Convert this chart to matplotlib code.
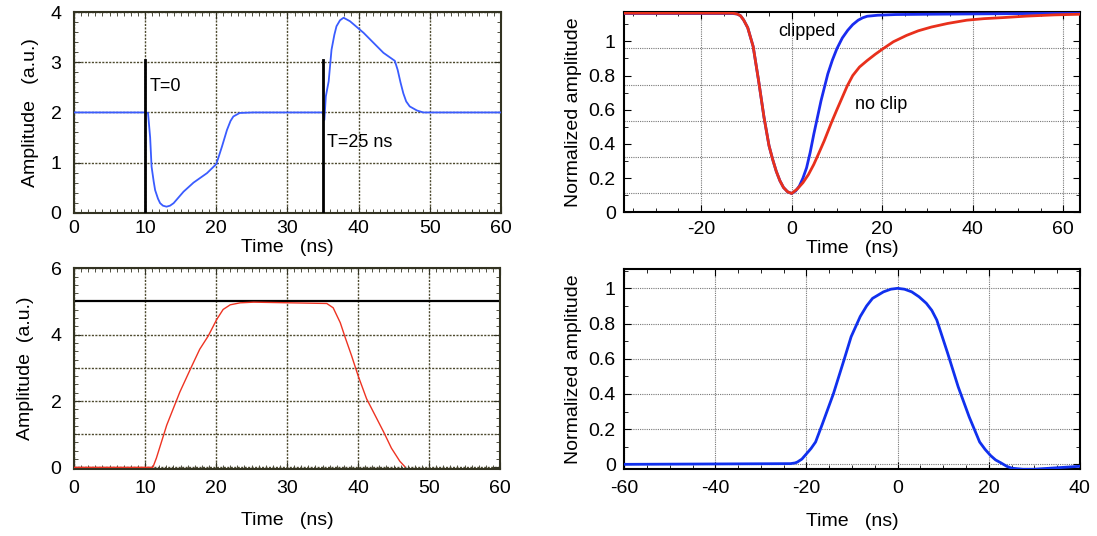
"""Four-panel pulse-shape figure: raw pulses, clipping, shaping output."""

import matplotlib

matplotlib.use("Agg")
import matplotlib.pyplot as plt
from matplotlib.ticker import MultipleLocator

# top-left: raw signal with delayed reflection
RAW_T = [0, 9.8, 10.4, 10.7, 10.9, 11.2, 11.4, 11.8, 12.1, 12.5, 13.0, 13.5, 14.0,
         15.4, 16.8, 18.7, 20.0, 20.3, 20.8, 21.5, 22.0, 22.4, 23.3, 25.2, 35.0,
         35.2, 35.4, 35.8, 36.2, 36.6, 36.9, 37.4, 37.9, 38.8, 40.7, 42.1, 43.5,
         45.1, 45.5, 45.9, 46.3, 46.7, 47.2, 48.2, 49.1, 60]
RAW_A = [2.0, 2.0, 1.99, 1.5, 0.92, 0.62, 0.45, 0.28, 0.19, 0.14, 0.12, 0.14, 0.19,
         0.42, 0.60, 0.79, 0.97, 1.1, 1.32, 1.65, 1.83, 1.92, 1.99, 2.0, 2.0,
         1.85, 2.32, 2.62, 3.25, 3.55, 3.72, 3.84, 3.89, 3.82, 3.59, 3.39, 3.19,
         3.03, 2.85, 2.6, 2.38, 2.22, 2.12, 2.04, 2.0, 2.0]
MARKER_T = [10, 35]
MARKER_TOP = 3.05

# top-right: clipped vs unclipped pulse
CLIP_T = [-37, -13.0, -12.0, -11.3, -10.6, -9.7, -8.5, -7.3, -6.1, -5.0, -4.2, -3.4,
          -2.6, -1.8, -0.9, 0, 0.9, 1.7, 2.5, 3.3, 4.1, 4.9, 6.5, 8.0, 9.0, 10.0,
          11.2, 12.4, 13.5, 14.7, 15.7, 16.7, 19.0, 23, 31, 64]
CLIP_A = [1.163, 1.163, 1.16, 1.15, 1.125, 1.08, 0.97, 0.77, 0.555, 0.39, 0.31,
          0.24, 0.185, 0.145, 0.12, 0.11, 0.125, 0.153, 0.2, 0.26, 0.35, 0.457,
          0.653, 0.81, 0.89, 0.957, 1.02, 1.065, 1.098, 1.124, 1.138, 1.147, 1.153,
          1.157, 1.159, 1.165]
NOCLIP_T = [-37, -13.0, -12.0, -11.3, -10.6, -9.7, -8.5, -7.3, -6.1, -5.0, -4.2,
            -3.4, -2.6, -1.8, -0.9, 0, 1.2, 2.5, 3.7, 4.9, 6.0, 7.2, 8.8, 10.0,
            11.2, 12.3, 13.5, 15.0, 16.7, 18.5, 20.2, 22.5, 25.4, 28.0, 30.9, 34.5,
            38.7, 42.5, 46.6, 52, 58, 64]
NOCLIP_A = [1.165, 1.165, 1.16, 1.15, 1.125, 1.08, 0.97, 0.77, 0.555, 0.39, 0.31,
            0.24, 0.185, 0.145, 0.12, 0.11, 0.135, 0.173, 0.22, 0.28, 0.345, 0.418,
            0.525, 0.6, 0.673, 0.74, 0.80, 0.85, 0.888, 0.925, 0.957, 0.998, 1.035,
            1.062, 1.084, 1.105, 1.124, 1.133, 1.139, 1.148, 1.155, 1.159]
NORM_GRID_Y = [0.11, 0.324, 0.535, 0.747, 0.96]

# bottom-left: trapezoid
TRAP_T = [0, 10.2, 11.1, 11.6, 13.05, 14.9, 16.6, 17.7, 18.9, 20.1, 21.0, 22.0,
          23.4, 25.3, 35.6, 36.5, 37.5, 38.2, 39.1, 40.0, 41.2, 42.4, 43.6, 44.7,
          45.9, 46.6]
TRAP_A = [0, 0, 0, 0.28, 1.27, 2.27, 3.06, 3.56, 3.96, 4.46, 4.76, 4.90, 4.96,
          4.98, 4.94, 4.81, 4.36, 3.91, 3.36, 2.77, 2.07, 1.57, 1.07, 0.58, 0.18,
          0.02]
TRAP_LEVEL = 5

# bottom-right: shaped pulse
SHAPE_T = [-60, -23.5, -22.5, -22, -21, -20, -19, -18, -16.5, -14.1, -11.8, -10.2,
           -8.2, -6.8, -5.5, -3.1, -1.5, 0, 1.5, 3.1, 4.7, 6.3, 7.5, 8.6, 11.0,
           13.3, 15.7, 18.0, 19.2, 20.4, 21.5, 22.7, 24.0, 25.1, 27.5, 29.8, 35.3, 40]
SHAPE_A = [0.0, 0.004, 0.008, 0.013, 0.03, 0.06, 0.09, 0.127, 0.23, 0.40, 0.59,
           0.725, 0.84, 0.9, 0.943, 0.98, 0.995, 1.0, 0.995, 0.98, 0.952, 0.915,
           0.875, 0.82, 0.63, 0.44, 0.27, 0.127, 0.085, 0.05, 0.025, 0.008, -0.012,
           -0.022, -0.028, -0.028, -0.019, -0.011]

plt.rcParams["font.family"] = ["Liberation Sans", "DejaVu Sans"]
plt.rcParams["axes.unicode_minus"] = False

fig = plt.figure(figsize=(10.97, 5.36), dpi=100)

OLIVE = "#4d4a2e"
grid_olive = dict(color=OLIVE, linestyle=(0, (1.5, 1)), linewidth=1.0)
grid_gray = dict(color="#777777", linestyle=(0, (1, 1)), linewidth=0.8)
FS = 14


def style(ax, frame_color, xmaj, xmin, ymaj, ymin, xpad, ypad, label_pad):
    ax.xaxis.set_major_locator(MultipleLocator(xmaj))
    ax.xaxis.set_minor_locator(MultipleLocator(xmin))
    ax.yaxis.set_major_locator(MultipleLocator(ymaj))
    ax.yaxis.set_minor_locator(MultipleLocator(ymin))
    ax.tick_params(which="both", direction="in", top=True, right=True,
                   colors=frame_color, labelcolor="black", labelsize=FS)
    ax.tick_params(which="major", length=5)
    ax.tick_params(which="minor", length=3)
    ax.tick_params(axis="x", pad=xpad)
    ax.tick_params(axis="y", pad=ypad)
    for s in ax.spines.values():
        s.set_color(frame_color)
        s.set_linewidth(1.5)
    ax.set_xlabel("Time   (ns)", fontsize=FS, labelpad=label_pad)


# top-left
ax1 = fig.add_axes([0.0675, 0.6032, 0.389, 0.374])
ax1.plot(RAW_T, RAW_A, color="#3a5cff", lw=1.3, zorder=3)
for t in MARKER_T:
    ax1.plot([t, t], [0, MARKER_TOP], color="black", lw=2, zorder=4)
ax1.text(10.6, 2.52, "T=0", fontsize=13, va="center")
ax1.text(35.6, 1.4, "T=25 ns", fontsize=13, va="center")
ax1.set_xlim(0, 60)
ax1.set_ylim(0, 4)
ax1.grid(True, **grid_olive)
style(ax1, "#333322", 10, 1, 1, 0.2, 5, 9, 2)
ax1.set_ylabel("Amplitude   (a.u.)", fontsize=FS, labelpad=8)

# top-right
ax2 = fig.add_axes([0.569, 0.604, 0.4154, 0.373])
ax2.plot(CLIP_T, CLIP_A, color="#1a2cf0", lw=2, zorder=3)
ax2.plot(NOCLIP_T, NOCLIP_A, color="#e8301c", lw=2, zorder=4)
ax2.text(3.3, 1.055, "clipped", fontsize=13, ha="center", va="center")
ax2.text(19.7, 0.633, "no clip", fontsize=13, ha="center", va="center")
ax2.set_xlim(-37, 63.7)
ax2.set_ylim(0, 1.17)
ax2.grid(True, axis="x", **grid_gray)
for gy in NORM_GRID_Y:
    ax2.axhline(gy, zorder=0, **grid_gray)
style(ax2, "black", 20, 5, 0.2, 0.1, 6, 6, 2)
ax2.set_yticks([0, 0.2, 0.4, 0.6, 0.8, 1.0])
ax2.set_yticklabels(["0", "0.2", "0.4", "0.6", "0.8", "1"])
ax2.set_ylabel("Normalized amplitude", fontsize=FS, labelpad=5)

# bottom-left
ax3 = fig.add_axes([0.0675, 0.125, 0.3883, 0.3744])
ax3.plot(TRAP_T, TRAP_A, color="#ee3322", lw=1.0, zorder=3)
ax3.axhline(TRAP_LEVEL, color="black", lw=1.6, zorder=2)
ax3.set_xlim(0, 60)
ax3.set_ylim(-0.05, 6)
ax3.grid(True, **grid_olive)
for y in [1, 3]:
    ax3.axhline(y, zorder=0, **grid_olive)
style(ax3, "#333322", 10, 1, 2, 0.25, 8, 9, 11)
ax3.set_ylabel("Amplitude  (a.u.)", fontsize=FS, labelpad=12)

# bottom-right
ax4 = fig.add_axes([0.569, 0.1245, 0.4154, 0.3737])
ax4.plot(SHAPE_T, SHAPE_A, color="#1030ee", lw=2, zorder=3)
ax4.set_xlim(-60, 40)
ax4.set_ylim(-0.028, 1.11)
ax4.grid(True, **grid_gray)
style(ax4, "black", 20, 5, 0.2, 0.1, 8, 6, 11)
ax4.set_yticks([0, 0.2, 0.4, 0.6, 0.8, 1.0])
ax4.set_yticklabels(["0", "0.2", "0.4", "0.6", "0.8", "1"])
ax4.set_ylabel("Normalized amplitude", fontsize=FS, labelpad=5)

fig.savefig("out.png", dpi=100)
